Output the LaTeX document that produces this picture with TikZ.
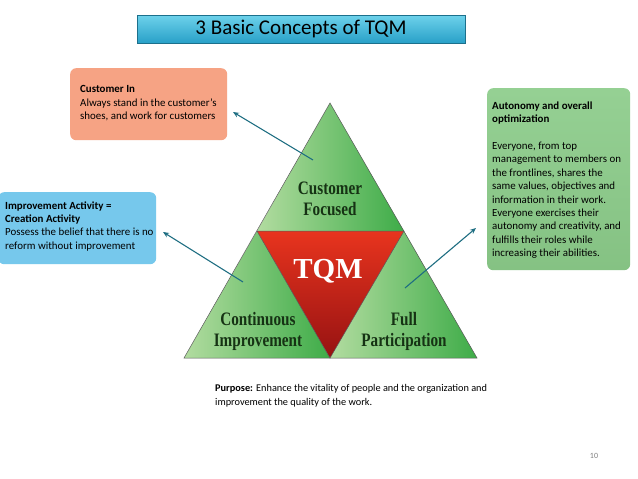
\documentclass[tikz,border=0pt]{standalone}
\usepackage{fontspec}
\setmainfont{Carlito}
\newfontfamily\trifont[FakeStretch=0.8]{Liberation Serif}
\newfontfamily\tqmfont{Liberation Serif}
\usetikzlibrary{arrows.meta}
\definecolor{titletop}{RGB}{110,210,235}
\definecolor{titlebot}{RGB}{40,160,200}
\definecolor{salmon}{RGB}{246,163,132}
\definecolor{skyb}{RGB}{118,200,236}
\definecolor{boxgreen}{RGB}{140,204,138}
\definecolor{gl}{RGB}{178,220,160}
\definecolor{gd}{RGB}{62,172,72}
\definecolor{redtop}{RGB}{232,52,30}
\definecolor{redbot}{RGB}{150,18,18}
\definecolor{teal}{RGB}{30,110,130}
\definecolor{lab}{RGB}{22,50,20}
\begin{document}
\begin{tikzpicture}[x=1pt,y=-1pt,
  infobox/.style={draw=none,rounded corners=6pt,anchor=north west,inner sep=0pt},
  infotext/.style={anchor=west,align=left,inner sep=0pt,
    font=\fontsize{10.9}{13.4}\selectfont},
  trilabel/.style={font=\trifont\bfseries\fontsize{19}{22}\selectfont,text=lab,align=center},
  conn/.style={teal,line width=1.1pt,-{Stealth[length=6pt,width=5pt]}},
  edge/.style={draw=black!65,line width=0.5pt}]
\useasboundingbox (0,0) rectangle (638,479);
\fill[white] (0,0) rectangle (638,479);

% title
\node[draw=titlebot!70!black,line width=0.4pt,top color=titletop,bottom color=titlebot,
  minimum width=328pt,minimum height=28pt,inner sep=0pt,
  font=\fontsize{21}{24}\selectfont] (title) at (301,29) {3 Basic Concepts of TQM};

% triangle
\coordinate (A) at (330,103);
\coordinate (B) at (184,358);
\coordinate (C) at (477,358);
\coordinate (L) at (257,231);
\coordinate (R) at (404,231);
\coordinate (M) at (330,358);
\shade[left color=gl,right color=gd] (A) -- (L) -- (R) -- cycle;
\shade[left color=gl,right color=gd] (L) -- (B) -- (M) -- cycle;
\shade[left color=gl,right color=gd] (R) -- (M) -- (C) -- cycle;
\shade[top color=redtop,bottom color=redbot] (L) -- (R) -- (M) -- cycle;
\draw[edge] (A) -- (B) -- (C) -- cycle;
\draw[edge] (L) -- (R) -- (M) -- cycle;

\node[trilabel] (cf) at (330,199) {Customer\\[-1pt]Focused};
\node[trilabel] (ci) at (258,331) {Continuous\\[-1pt]Improvement};
\node[trilabel] (fp) at (404,331) {Full\\[-1pt]Participation};
\node[font=\tqmfont\bfseries\fontsize{29}{30}\selectfont,text=white] (tqm) at (328,271) {TQM};

% boxes
\node[infobox,fill=salmon,minimum width=157pt,minimum height=72pt] (cust) at (70,68) {};
\node[infotext] (custt) at ([xshift=10pt,yshift=1pt]cust.west)
  {\textbf{Customer In}\\Always stand in the customer's\\shoes, and work for customers};
\node[infobox,fill=skyb,minimum width=158pt,minimum height=72pt] (impr) at (-2,192) {};
\node[infotext] (imprt) at ([xshift=7pt,yshift=2pt]impr.west)
  {\textbf{Improvement Activity =}\\\textbf{Creation Activity}\\Possess the belief that there is no\\reform without improvement};
\node[infobox,bottom color=boxgreen!95!black,top color=boxgreen!92!white,minimum width=143pt,minimum height=182pt] (auto) at (487,88) {};
\node[infotext] (autot) at ([xshift=5pt,yshift=-1pt]auto.west)
  {\textbf{Autonomy and overall}\\\textbf{optimization}\\[13.4pt]Everyone, from top\\management to members on\\the frontlines, shares the\\same values, objectives and\\information in their work.\\Everyone exercises their\\autonomy and creativity, and\\fulfills their roles while\\increasing their abilities.};

% connectors
\coordinate (s1) at (313,160);
\coordinate (e1) at (233,112);
\coordinate (s2) at (243,282);
\coordinate (e2) at (163,232);
\coordinate (s3) at (405,288);
\coordinate (e3) at (476,228);
\draw[conn] (s1) -- (e1);
\draw[conn] (s2) -- (e2);
\draw[conn] (s3) -- (e3);

% purpose
\node[anchor=north west,align=left,inner sep=0pt,font=\fontsize{10.3}{14.5}\selectfont] (purpose) at (215,384)
  {\textbf{Purpose:} Enhance the vitality of people and the organization and\\improvement the quality of the work.};

\node[text=black!50,font=\fontsize{8}{9}\selectfont] (pg) at (594,456) {10};
\end{tikzpicture}
\end{document}
